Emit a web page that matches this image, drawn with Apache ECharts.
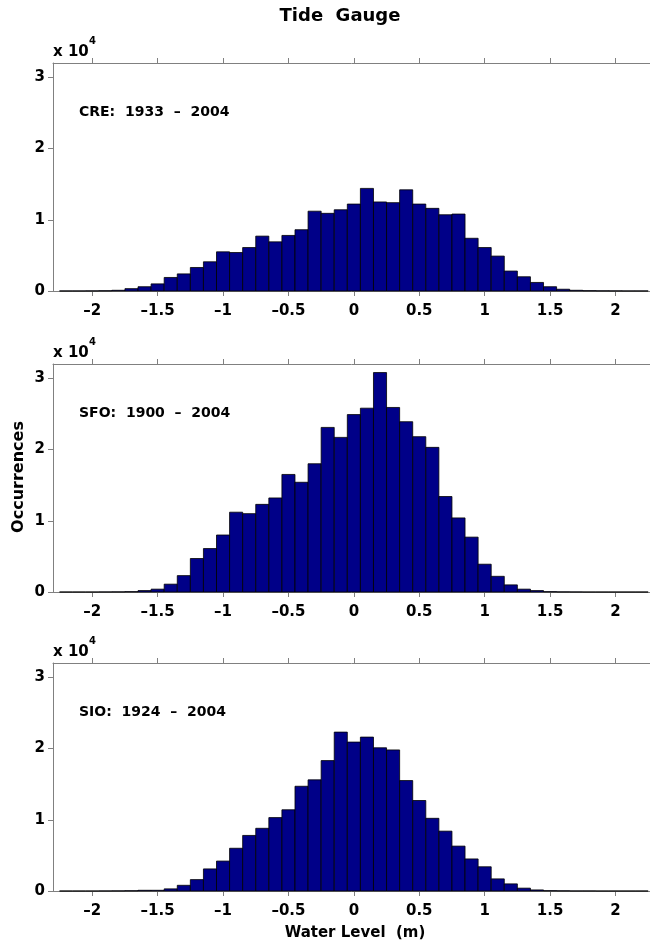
<!DOCTYPE html>
<html>
<head>
<meta charset="utf-8">
<script src="https://cdn.jsdelivr.net/npm/echarts@6/dist/echarts.min.js"></script>
<style>html,body{margin:0;padding:0;background:#fff;}#chart{width:650px;height:949px;}</style>
</head>
<body>
<div id="chart"></div>
<script>
// Bin centres (m)
const binCenters = [-2.2,-2.1,-2.0,-1.9,-1.8,-1.7,-1.6,-1.5,-1.4,-1.3,-1.2,-1.1,-1.0,-0.9,-0.8,-0.7,-0.6,-0.5,-0.4,-0.3,-0.2,-0.1,0.0,0.1,0.2,0.3,0.4,0.5,0.6,0.7,0.8,0.9,1.0,1.1,1.2,1.3,1.4,1.5,1.6,1.7,1.8,1.9,2.0,2.1,2.2];
// Occurrences (x 10^4)
const creValues = [0.001,0.001,0.002,0.004,0.01,0.033,0.06,0.10,0.19,0.24,0.33,0.41,0.55,0.54,0.61,0.77,0.69,0.78,0.86,1.12,1.09,1.14,1.22,1.44,1.25,1.24,1.42,1.22,1.16,1.07,1.08,0.74,0.61,0.49,0.28,0.20,0.12,0.06,0.025,0.01,0.005,0.003,0.002,0.001,0.001];
const sfoValues = [0,0,0,0.001,0.002,0.005,0.02,0.04,0.11,0.23,0.47,0.61,0.80,1.12,1.10,1.23,1.32,1.65,1.54,1.80,2.31,2.17,2.49,2.58,3.08,2.59,2.39,2.18,2.03,1.34,1.04,0.77,0.39,0.22,0.10,0.04,0.02,0.005,0.002,0.001,0,0,0,0,0];
const sioValues = [0,0,0,0.001,0.002,0.004,0.01,0.01,0.03,0.08,0.16,0.31,0.42,0.60,0.78,0.88,1.03,1.14,1.47,1.56,1.83,2.23,2.09,2.16,2.01,1.98,1.55,1.27,1.02,0.84,0.63,0.45,0.34,0.17,0.10,0.04,0.015,0.005,0.003,0.001,0.001,0,0,0,0];
const panelLabels = ['CRE:  1933  \u2013  2004','SFO:  1900  \u2013  2004','SIO:  1924  \u2013  2004'];
const xTickValues = [-2,-1.5,-1,-0.5,0,0.5,1,1.5,2];
const yTickValues = [0,1,2,3];

const FONT = 'DejaVu Sans';
const panels = [creValues, sfoValues, sioValues];
const tops = [63, 364, 663];
const gridH = 228, gridL = 53;
const gray = '#808080';
const binHalf = 0.05;
const X_MIN = -2.3, X_MAX = 2.264;

const grids = [], xAxes = [], yAxes = [], series = [], graphics = [];
panels.forEach((vals, i) => {
  grids.push({left: gridL, top: tops[i], right: 0, height: gridH, show: false});
  xAxes.push({
    type: 'value', gridIndex: i, min: X_MIN, max: X_MAX, position: 'bottom',
    axisLine: {show: true, onZero: false, lineStyle: {color: gray, width: 1}}, splitLine: {show: false},
    axisTick: {show: true, inside: false, length: 5, customValues: xTickValues, lineStyle: {color: gray}},
    axisLabel: {show: true, customValues: xTickValues, margin: 13, color: '#000', fontFamily: FONT, fontWeight: 'bold', fontSize: 15,
      formatter: v => String(v).replace('-', '\u2013')}
  });
  xAxes.push({
    type: 'value', gridIndex: i, min: X_MIN, max: X_MAX, position: 'top',
    axisLine: {show: true, onZero: false, lineStyle: {color: gray, width: 1}}, splitLine: {show: false},
    axisTick: {show: true, inside: false, length: 5, customValues: xTickValues, lineStyle: {color: gray}},
    axisLabel: {show: false}
  });
  yAxes.push({
    type: 'value', gridIndex: i, min: 0, max: 3.2, position: 'left',
    axisLine: {show: true, onZero: false, lineStyle: {color: gray, width: 1}}, splitLine: {show: false},
    axisTick: {show: true, inside: false, length: 5, customValues: yTickValues, lineStyle: {color: gray}},
    axisLabel: {show: true, customValues: yTickValues, margin: 8, color: '#000', fontFamily: FONT, fontWeight: 'bold', fontSize: 15}
  });
  series.push({
    type: 'custom', xAxisIndex: i * 2, yAxisIndex: i, silent: true,
    data: binCenters.map((c, k) => [c, vals[k]]),
    renderItem: (params, api) => {
      const c = api.value(0), v = api.value(1);
      const p0 = api.coord([c - binHalf, v]);
      const p1 = api.coord([c + binHalf, 0]);
      return {type: 'rect', shape: {x: p0[0], y: p0[1], width: p1[0] - p0[0], height: p1[1] - p0[1]},
        style: {fill: '#000088', stroke: '#000', lineWidth: 0.8}};
    }
  });
  graphics.push({type: 'text', left: 79, top: tops[i] + 50 - 8, style: {text: panelLabels[i], fill: '#000', font: 'bold 14px "' + FONT + '"'}});
  graphics.push({type: 'text', x: 53, y: tops[i] - 11, style: {text: 'x 10', fill: '#000', font: 'bold 15px "' + FONT + '"', verticalAlign: 'middle', align: 'left'}});
  graphics.push({type: 'text', x: 89, y: tops[i] - 22, style: {text: '4', fill: '#000', font: 'bold 10px "' + FONT + '"', verticalAlign: 'middle', align: 'left'}});
});

graphics.push({type: 'text', x: 340, y: 16, style: {text: 'Tide  Gauge', fill: '#000', font: 'bold 18px "' + FONT + '"', align: 'center', verticalAlign: 'middle'}});
graphics.push({type: 'text', x: 355, y: 933, style: {text: 'Water Level  (m)', fill: '#000', font: 'bold 15px "' + FONT + '"', align: 'center', verticalAlign: 'middle'}});
graphics.push({type: 'text', x: 19, y: 477, rotation: Math.PI / 2, style: {text: 'Occurrences', fill: '#000', font: 'bold 16px "' + FONT + '"', align: 'center', verticalAlign: 'middle'}});

const chart = echarts.init(document.getElementById('chart'), null, {renderer: 'canvas'});
chart.setOption({
  animation: false,
  backgroundColor: '#fff',
  grid: grids, xAxis: xAxes, yAxis: yAxes, series: series, graphic: graphics
});
</script>
</body>
</html>
